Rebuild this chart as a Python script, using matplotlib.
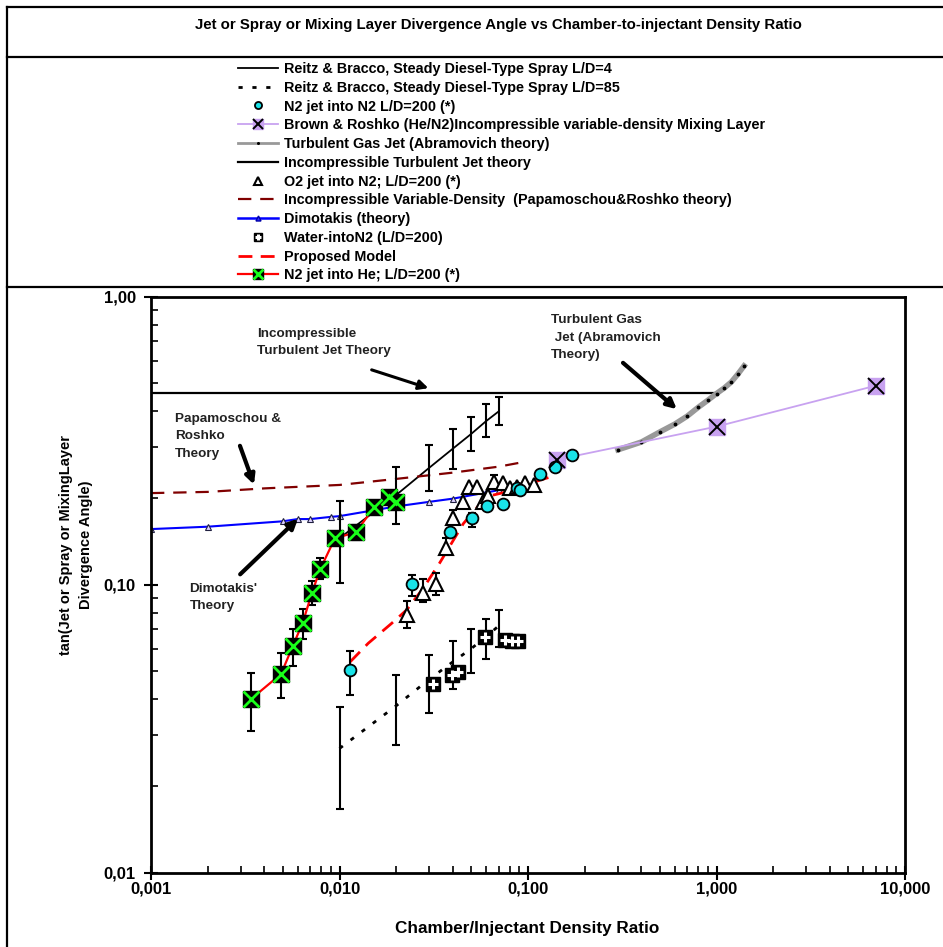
import numpy as np
import matplotlib
matplotlib.use("Agg")
import matplotlib.pyplot as plt
from matplotlib.lines import Line2D
from matplotlib.ticker import FixedLocator, FixedFormatter, LogLocator, NullFormatter
from matplotlib.legend_handler import HandlerTuple

plt.rcParams['font.family'] = ['Liberation Sans', 'DejaVu Sans']
plt.rcParams['font.weight'] = 'bold'

# ---- data ----
# Reitz & Bracco, L/D=4 (line + error bars)
reitz4_x = [0.01, 0.02, 0.03, 0.04, 0.05, 0.06, 0.07]
reitz4_y = [0.145, 0.205, 0.255, 0.297, 0.334, 0.370, 0.400]
reitz4_lo = [0.101, 0.163, 0.212, 0.252, 0.292, 0.327, 0.358]
reitz4_hi = [0.196, 0.256, 0.306, 0.347, 0.383, 0.423, 0.450]

# Reitz & Bracco, L/D=85
reitz85_x = [0.01, 0.02, 0.03, 0.04, 0.05, 0.06, 0.07]
reitz85_y = [0.027, 0.038, 0.047, 0.054, 0.060, 0.066, 0.072]
reitz85_lo = [0.0166, 0.0278, 0.0358, 0.0434, 0.0495, 0.0552, 0.0609]
reitz85_hi = [0.0377, 0.0486, 0.057, 0.0638, 0.0701, 0.0763, 0.0814]

# N2 jet into N2
n2n2_x = [0.0114, 0.0242, 0.0386, 0.0502, 0.0608, 0.0733, 0.0875, 0.091, 0.116, 0.139, 0.171]
n2n2_y = [0.0506, 0.1006, 0.153, 0.171, 0.187, 0.190, 0.216, 0.213, 0.242, 0.257, 0.281]
n2n2_err_x = [0.0114, 0.0242, 0.0502, 0.0733]
n2n2_err_lo = [0.0414, 0.091, 0.159, 0.184]
n2n2_err_hi = [0.0589, 0.108, 0.178, 0.196]

# Brown & Roshko mixing layer
brown_x = [0.143, 1.0, 7.0]
brown_y = [0.272, 0.354, 0.491]

# Turbulent gas jet (Abramovich)
abram_x = [0.3, 0.4, 0.5, 0.6, 0.7, 0.8, 0.9, 1.0, 1.1, 1.2, 1.3, 1.4]
abram_y = [0.294, 0.313, 0.339, 0.361, 0.385, 0.413, 0.437, 0.461, 0.482, 0.506, 0.539, 0.575]

# Incompressible turbulent jet theory
incomp_x = [0.001, 1.0]
incomp_y = [0.464, 0.464]

# O2 jet into N2
o2_x = [0.0227, 0.0278, 0.0325, 0.0366, 0.040, 0.0454, 0.0489, 0.0535, 0.0577, 0.0615,
        0.0663, 0.0734, 0.080, 0.0875, 0.0965, 0.107]
o2_y = [0.0785, 0.0939, 0.1005, 0.134, 0.171, 0.193, 0.219, 0.219, 0.194, 0.203,
        0.228, 0.225, 0.216, 0.219, 0.225, 0.222]
o2_err_x = [0.0227, 0.0278, 0.0325, 0.0366, 0.040, 0.0663]
o2_err_lo = [0.0707, 0.087, 0.092, 0.127, 0.163, 0.218]
o2_err_hi = [0.088, 0.105, 0.110, 0.145, 0.181, 0.240]

# Papamoschou & Roshko theory
papa_x = [0.001, 0.002, 0.004, 0.01, 0.02, 0.04, 0.07, 0.09]
papa_y = [0.208, 0.210, 0.216, 0.222, 0.233, 0.245, 0.257, 0.265]

# Dimotakis theory
dimo_x = [0.001, 0.002, 0.005, 0.006, 0.007, 0.009, 0.01, 0.02, 0.03, 0.04, 0.06, 0.07, 0.08, 0.1]
dimo_y = [0.156, 0.159, 0.166, 0.169, 0.169, 0.172, 0.173, 0.187, 0.194, 0.199, 0.209, 0.213, 0.216, 0.222]

# Water into N2
water_x = [0.0315, 0.0394, 0.0427, 0.0592, 0.0755, 0.082, 0.0889]
water_y = [0.0452, 0.0486, 0.0499, 0.0657, 0.0643, 0.064, 0.0637]

# Proposed model
prop_x = [0.0114, 0.0142, 0.0189, 0.0227, 0.0278, 0.034, 0.0454, 0.06, 0.084, 0.116, 0.136]
prop_y = [0.054, 0.0626, 0.0734, 0.0817, 0.0972, 0.119, 0.163, 0.202, 0.213, 0.231, 0.238]

# N2 jet into He
he_x = [0.00338, 0.0049, 0.00565, 0.00638, 0.00713, 0.00789, 0.00946, 0.0122, 0.0153, 0.0182, 0.020]
he_y = [0.040, 0.049, 0.0612, 0.0738, 0.0933, 0.113, 0.145, 0.152, 0.186, 0.202, 0.194]
he_err_x = [0.00338, 0.0049, 0.00565, 0.00638, 0.00713, 0.00789, 0.0122]
he_err_lo = [0.0311, 0.0404, 0.0521, 0.0650, 0.085, 0.105, 0.143]
he_err_hi = [0.0492, 0.0578, 0.0703, 0.0822, 0.103, 0.1235, 0.161]

x_ticks = [0.001, 0.01, 0.1, 1, 10]
x_labels = ['0,001', '0,010', '0,100', '1,000', '10,000']
y_ticks = [0.01, 0.1, 1]
y_labels = ['0,01', '0,10', '1,00']

W, H = 943, 947
fig = plt.figure(figsize=(W / 100, H / 100), dpi=100)
ax = fig.add_axes([151 / W, 1 - 872.7 / H, (905 - 151) / W, (872.7 - 296.7) / H])


def err(x, lo, hi):
    lo = np.array(lo)
    hi = np.array(hi)
    ax.errorbar(x, lo, yerr=[np.zeros_like(lo), hi - lo], fmt='none', ecolor='black',
                elinewidth=1.5, capsize=3, capthick=1.5, zorder=3)


lavender = '#c8a2f0'
cyan = '#19e3e8'
green = '#19ff19'

# lines
h_r4, = ax.plot(reitz4_x, reitz4_y, color='black', lw=1.3, zorder=2)
h_r85, = ax.plot(reitz85_x, reitz85_y, color='black', lw=2, ls=(0, (1.5, 3.5)), zorder=2)
h_inc, = ax.plot(incomp_x, incomp_y, color='black', lw=1.6, zorder=2)
h_papa, = ax.plot(papa_x, papa_y, color='#800000', lw=1.6, ls=(0, (6, 4)), zorder=2)
ax.plot(dimo_x, dimo_y, color='#0000ff', lw=1.5, marker='^', ms=4.5,
        mfc='#ddd0ff', mec='#202040', mew=0.8, zorder=2)
h_dimo = Line2D([], [], color='#0000ff', lw=1.8, marker='^', ms=6, mfc='#3030ff', mec='#0000aa')
ax.plot(abram_x, abram_y, color='#999999', lw=4, marker='.', ms=3.5,
        mfc='black', mec='black', zorder=2)
h_abram = Line2D([], [], color='#999999', lw=2, marker='.', ms=4, mfc='black', mec='black')
h_brown_l, = ax.plot(brown_x, brown_y, color=lavender, lw=1.3, marker='s', ms=12,
                     mfc=lavender, mec=lavender, zorder=4)
h_brown_x, = ax.plot(brown_x, brown_y, ls='none', marker='x', ms=11, mec='black', mew=1.4, zorder=5)
h_prop, = ax.plot(prop_x, prop_y, color='#ff0000', lw=2, ls=(0, (5, 3)), zorder=2)

# error bars
err(reitz4_x, reitz4_lo, reitz4_hi)
err(reitz85_x, reitz85_lo, reitz85_hi)
err(n2n2_err_x, n2n2_err_lo, n2n2_err_hi)
err(o2_err_x, o2_err_lo, o2_err_hi)
err(he_err_x, he_err_lo, he_err_hi)

# markers
h_water_s, = ax.plot(water_x, water_y, ls='none', marker='s', ms=10, mfc='black', mec='black', zorder=4)
h_water_p, = ax.plot(water_x, water_y, ls='none', marker='+', ms=7, mec='white', mew=2.2, zorder=5)
h_o2, = ax.plot(o2_x, o2_y, ls='none', marker='^', ms=10, mfc='white', mec='black', mew=1.5, zorder=4)
h_n2, = ax.plot(n2n2_x, n2n2_y, ls='none', marker='o', ms=8.5, mfc=cyan, mec='black', mew=1.3, zorder=4)
h_he_l, = ax.plot(he_x, he_y, color='#ff0000', lw=1.6, marker='s', ms=11.5, mfc='black', mec='black', zorder=4)
h_he_x, = ax.plot(he_x, he_y, ls='none', marker='x', ms=11, mec=green, mew=2, zorder=5)

ax.set_xscale('log')
ax.set_yscale('log')
ax.set_xlim(0.001, 10)
ax.set_ylim(0.01, 1)
ax.xaxis.set_major_locator(FixedLocator(x_ticks))
ax.xaxis.set_major_formatter(FixedFormatter(x_labels))
ax.yaxis.set_major_locator(FixedLocator(y_ticks))
ax.yaxis.set_major_formatter(FixedFormatter(y_labels))
ax.xaxis.set_minor_locator(LogLocator(base=10, subs=np.arange(2, 10)))
ax.yaxis.set_minor_locator(LogLocator(base=10, subs=np.arange(2, 10)))
ax.xaxis.set_minor_formatter(NullFormatter())
ax.yaxis.set_minor_formatter(NullFormatter())
ax.tick_params(which='major', direction='inout', length=10, width=1.5, labelsize=12)
ax.tick_params(axis='x', which='major', pad=1)
ax.tick_params(axis='y', which='major', pad=6)
ax.tick_params(which='minor', direction='in', length=5, width=1.2)
for s in ax.spines.values():
    s.set_linewidth(2)

fig.text(527 / W, 1 - 928 / H, 'Chamber/Injectant Density Ratio', ha='center', va='center',
         fontsize=12.3, fontweight='bold')
fig.text(76 / W, 1 - 545 / H, 'tan(Jet or Spray or MixingLayer\nDivergence Angle)', rotation=90,
         ha='center', va='center', fontsize=10.5, fontweight='bold', multialignment='center',
         linespacing=1.6)

# annotations
note = dict(fontsize=9.7, va='top', ha='left', color='#222222', linespacing=1.6)
ax.text(0.00365, 0.78, 'Incompressible\nTurbulent Jet Theory', **note)
ax.annotate('', xy=(0.0306, 0.478), xytext=(0.01434, 0.561),
            arrowprops=dict(arrowstyle='-|>', lw=2.2, color='black', mutation_scale=14))
ax.text(0.00134, 0.395, 'Papamoschou &\nRoshko\nTheory', **note)
ax.annotate('', xy=(0.00356, 0.218), xytext=(0.00293, 0.310),
            arrowprops=dict(arrowstyle='-|>', lw=3, color='black', mutation_scale=14))
ax.text(0.00160, 0.1015, "Dimotakis'\nTheory", **note)
ax.annotate('', xy=(0.00617, 0.172), xytext=(0.0029, 0.107),
            arrowprops=dict(arrowstyle='-|>', lw=3, color='black', mutation_scale=14))
ax.text(0.132, 0.87, 'Turbulent Gas\n Jet (Abramovich\nTheory)', **note)
ax.annotate('', xy=(0.632, 0.401), xytext=(0.311, 0.598),
            arrowprops=dict(arrowstyle='-|>', lw=3, color='black', mutation_scale=14))

# legend
handles = [h_r4, h_r85, h_n2, (h_brown_l, h_brown_x), h_abram, h_inc, h_o2, h_papa, h_dimo,
           (h_water_s, h_water_p), h_prop, (h_he_l, h_he_x)]
labels = ['Reitz & Bracco, Steady Diesel-Type Spray L/D=4',
          'Reitz & Bracco, Steady Diesel-Type Spray L/D=85',
          'N2 jet into N2 L/D=200 (*)',
          'Brown & Roshko (He/N2)Incompressible variable-density Mixing Layer',
          'Turbulent Gas Jet (Abramovich theory)',
          'Incompressible Turbulent Jet theory',
          'O2 jet into N2; L/D=200 (*)',
          'Incompressible Variable-Density  (Papamoschou&Roshko theory)',
          'Dimotakis (theory)',
          'Water-intoN2 (L/D=200)',
          'Proposed Model',
          'N2 jet into He; L/D=200 (*)']
fig.legend(handles, labels, loc='upper left', bbox_to_anchor=(238 / W, 1 - 62 / H),
           frameon=False, fontsize=10.4, handlelength=2.8, handletextpad=0.35, labelspacing=0.33,
           borderpad=0, borderaxespad=0, markerscale=0.6, numpoints=1,
           handler_map={tuple: HandlerTuple(ndivide=1)})

# title and frame
fig.text(498 / W, 1 - 25 / H, 'Jet or Spray or Mixing Layer Divergence Angle vs Chamber-to-injectant Density Ratio',
         ha='center', va='center', fontsize=10.8, fontweight='bold')
for yy in [7, 57, 287]:
    fig.add_artist(Line2D([7 / W, 1], [1 - yy / H, 1 - yy / H], transform=fig.transFigure,
                          color='black', lw=1.6))
fig.add_artist(Line2D([7 / W, 7 / W], [0, 1 - 7 / H], transform=fig.transFigure, color='black', lw=1.6))

fig.savefig('out.png', dpi=100)
